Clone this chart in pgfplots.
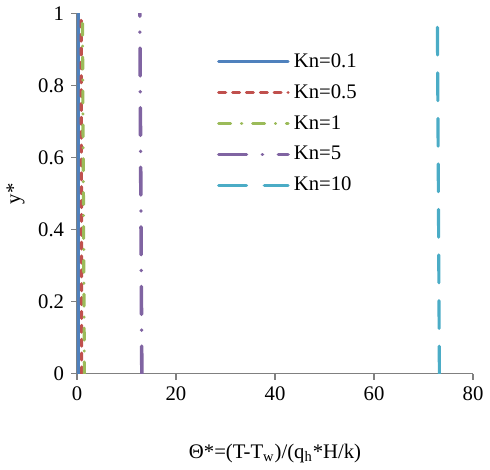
\documentclass[border=0pt]{standalone}
\usepackage{pgfplots}
\pgfplotsset{compat=1.18}
\usepackage{fontspec}
\setmainfont{Liberation Serif}
\definecolor{cblue}{HTML}{4F81BD}
\definecolor{cred}{HTML}{C0504D}
\definecolor{cgreen}{HTML}{9BBB59}
\definecolor{cpurple}{HTML}{8064A2}
\definecolor{caqua}{HTML}{4BACC6}
\begin{document}
\begin{tikzpicture}
\begin{axis}[
    scale only axis,
    width=200bp, height=182bp,
    xmin=0, xmax=80, ymin=0, ymax=1,
    xtick={0,20,40,60,80},
    ytick={0,0.2,0.4,0.6,0.8,1},
    axis x line*=bottom, axis y line*=left,
    axis line style={gray, line width=0.6bp, -},
    tick style={gray, line width=0.6bp},
    tick align=outside,
    major tick length=3bp,
    font=\fontsize{10.5}{12.6}\selectfont,
    /pgf/number format/assume math mode=true,
    xlabel={Θ*=(T-T\textsubscript{w})/(q\textsubscript{h}*H/k)},
    ylabel={y*},
    xlabel style={yshift=-15bp},
    ylabel style={yshift=0bp},
    legend style={draw=none, fill=none, at={(axis cs:27,0.912)}, anchor=north west,
        font=\fontsize{10.5}{12.6}\selectfont, row sep=3.2bp,
        cells={anchor=west}},
    legend image code/.code={\draw[#1] (0bp,0bp) -- (35bp,0bp);},
    every axis plot/.append style={line width=1.6bp, line cap=round},
]
\addplot[cblue] coordinates {(0.2,0) (0.2,0.5) (0.2,1)};
\addlegendentry{Kn=0.1}
\addplot[cred, dash pattern=on 3.5bp off 3.5bp] coordinates {(0.95,0) (0.9,0.5) (0.85,1)};
\addlegendentry{Kn=0.5}
\addplot[cgreen, dash pattern=on 6bp off 5.5bp on 0.1bp off 5.5bp] coordinates {(1.5,0) (1.3,0.5) (1.1,1)};
\addlegendentry{Kn=1}
\addplot[cpurple, line width=1.8bp, dash pattern=on 14bp off 8bp on 0.1bp off 8bp] coordinates {(13.1,0) (12.9,0.5) (12.7,1)};
\addlegendentry{Kn=5}
\addplot[caqua, dash pattern=on 14bp off 9bp] coordinates {(73.2,0) (73.0,0.5) (72.8,0.97)};
\addlegendentry{Kn=10}
\end{axis}
\end{tikzpicture}
\end{document}
